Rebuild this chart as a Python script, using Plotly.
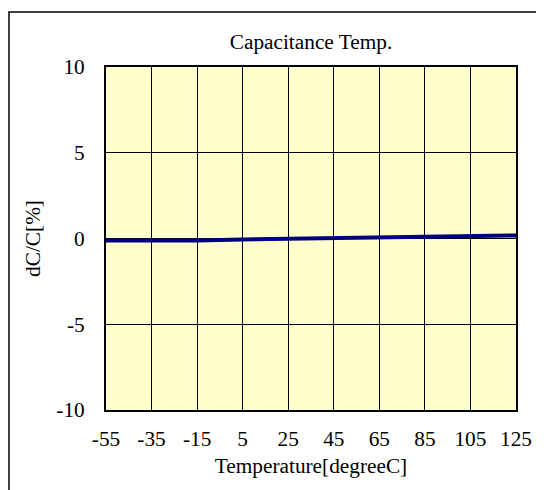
import plotly.graph_objects as go

temps = [-55, -35, -15, 5, 25, 45, 65, 85, 105, 125]
dcc = [-0.12, -0.12, -0.11, -0.06, -0.02, 0.01, 0.04, 0.09, 0.14, 0.18]
x_ticks = [-55, -35, -15, 5, 25, 45, 65, 85, 105, 125]
x_tick_labels = ["-55", "-35", "-15", "5", "25", "45", "65", "85", "105", "125"]
y_ticks = [-10, -5, 0, 5, 10]
y_tick_labels = ["-10", "-5", "0", "5", "10"]

OFF = 8  # page body margin
W, H = 544 - OFF, 490 - OFF
L, R, T, B = 106 - OFF, 516 - OFF, 67 - OFF, 410 - OFF
FS = 21.3

fig = go.Figure()
fig.add_trace(go.Scatter(x=temps, y=dcc, mode="lines",
                         line=dict(color="#000080", width=4), showlegend=False))

font = dict(family="Liberation Serif, Times New Roman, serif", size=FS, color="black")

fig.update_layout(
    width=W, height=H,
    margin=dict(l=L, r=W - R, t=T, b=H - B, pad=0, autoexpand=False),
    paper_bgcolor="white",
    plot_bgcolor="#FFFFCC",
    font=font,
    title=dict(text="Capacitance Temp.", x=(L + R) / 2 / W, xanchor="center",
               y=1 - (42 - OFF) / H, yanchor="middle", font=dict(size=FS)),
    xaxis=dict(range=[-55, 125], tickvals=x_ticks, ticktext=x_tick_labels,
               showgrid=True, gridcolor="black",
               gridwidth=1, zeroline=False, showline=True, linecolor="black", linewidth=2,
               mirror=True, ticks="", ticklen=0, tickfont=dict(size=FS),
               ticklabelstandoff=8,
               title=dict(text="Temperature[degreeC]", standoff=9, font=dict(size=FS))),
    yaxis=dict(range=[-10, 10], tickvals=y_ticks, ticktext=y_tick_labels,
               showgrid=True, gridcolor="black",
               gridwidth=1, zeroline=False, showline=True, linecolor="black", linewidth=2,
               mirror=True, ticks="", ticklen=0, tickfont=dict(size=FS),
               ticklabelstandoff=15,
               title=dict(text="dC/C[%]", standoff=10, font=dict(size=FS))),
    shapes=[dict(type="rect", xref="paper", yref="paper",
                 x0=(1 - L) / (R - L), x1=1.2, y0=-0.5, y1=(B - (12 - OFF)) / (B - T),
                 line=dict(color="black", width=1.5), fillcolor="rgba(0,0,0,0)", layer="below")],
)

fig.write_html("out.html")
